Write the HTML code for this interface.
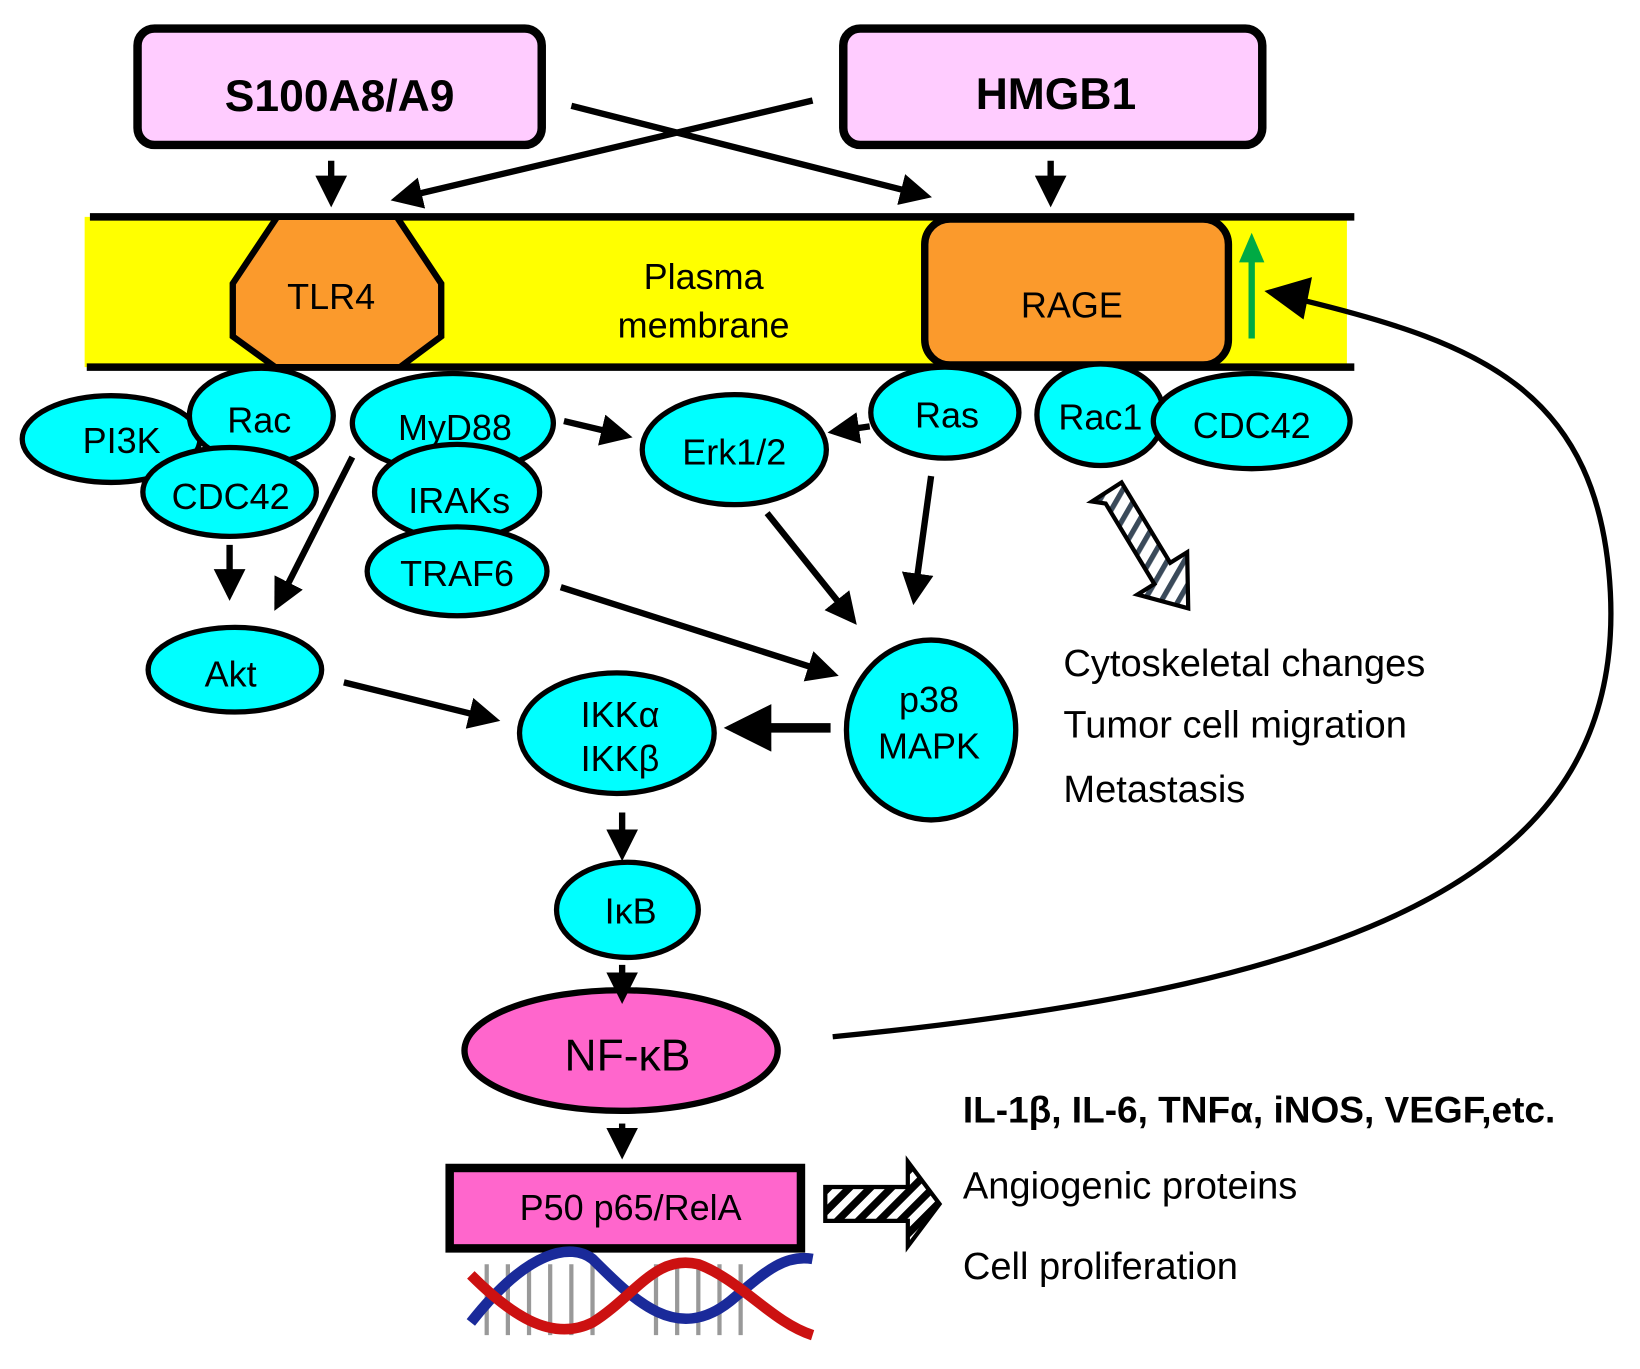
<!DOCTYPE html>
<html><head><style>html,body{margin:0;padding:0;background:#fff}svg{display:block}text{font-family:"Liberation Sans",sans-serif}</style></head>
<body>
<svg width="1640" height="1369" viewBox="0 0 1550 1294" preserveAspectRatio="none" xmlns="http://www.w3.org/2000/svg">
<defs>
<marker id="ah" markerWidth="5" markerHeight="5" refX="4" refY="2.5" orient="auto" markerUnits="strokeWidth"><path d="M0,0 L5,2.5 L0,5 Z" fill="#000"/></marker>
<pattern id="hatch" width="14" height="14" patternUnits="userSpaceOnUse" patternTransform="rotate(45)"><rect width="14" height="14" fill="#fff"/><rect width="7" height="14" fill="#000"/></pattern>
<pattern id="hatch2" width="14" height="14" patternUnits="userSpaceOnUse" patternTransform="rotate(30)"><rect width="14" height="14" fill="#fff"/><rect width="5" height="14" fill="#3a4a5a"/></pattern>
</defs>
<rect x="130" y="27" width="382" height="110" rx="16" fill="#ffccff" stroke="#000" stroke-width="8"/>
<text x="321" y="105" font-size="42" font-weight="bold" text-anchor="middle">S100A8/A9</text>
<rect x="797" y="27" width="396" height="110" rx="16" fill="#ffccff" stroke="#000" stroke-width="8"/>
<text x="998" y="103" font-size="42" font-weight="bold" text-anchor="middle">HMGB1</text>
<g stroke="#000" stroke-width="6" fill="none" marker-end="url(#ah)">
<line x1="313" y1="152" x2="313" y2="190"/>
<line x1="993" y1="152" x2="993" y2="190"/>
<line x1="540" y1="100" x2="875" y2="185"/>
<line x1="768" y1="95" x2="375" y2="188"/>
</g>
<rect x="80" y="205" width="1193" height="142" fill="#ffff00"/>
<line x1="85" y1="205" x2="1280" y2="205" stroke="#000" stroke-width="7"/>
<line x1="82" y1="347" x2="1280" y2="347" stroke="#000" stroke-width="7"/>
<polygon points="262,205 375,205 417,268 417,318 378,347 260,347 220,318 220,268" fill="#fb9a2c" stroke="#000" stroke-width="6"/>
<text x="313" y="292" font-size="34" text-anchor="middle">TLR4</text>
<text x="665" y="273" font-size="34" text-anchor="middle">Plasma</text>
<text x="665" y="319" font-size="34" text-anchor="middle">membrane</text>
<rect x="874" y="207" width="287" height="138" rx="24" fill="#fb9a2c" stroke="#000" stroke-width="7"/>
<text x="1013" y="300" font-size="34" text-anchor="middle">RAGE</text>
<line x1="1183" y1="320" x2="1183" y2="245" stroke="#00aa44" stroke-width="6"/>
<path d="M1171,248 L1183,220 L1195,248 Z" fill="#00aa44"/>
<g fill="#00ffff" stroke="#000" stroke-width="5">
<ellipse cx="105" cy="415" rx="84" ry="41"/>
<ellipse cx="247" cy="393" rx="68" ry="45"/>
<ellipse cx="428" cy="400" rx="95" ry="47"/>
<ellipse cx="217" cy="465" rx="82" ry="42"/>
<ellipse cx="432" cy="465" rx="78" ry="45"/>
<ellipse cx="432" cy="540" rx="85" ry="42"/>
<ellipse cx="694" cy="425" rx="87" ry="52"/>
<ellipse cx="893" cy="390" rx="70" ry="43"/>
<ellipse cx="1040" cy="392" rx="60" ry="48"/>
<ellipse cx="1183" cy="398" rx="93" ry="45"/>
<ellipse cx="222" cy="633" rx="82" ry="40"/>
<ellipse cx="583" cy="693" rx="92" ry="57"/>
<ellipse cx="880" cy="690" rx="80" ry="85"/>
<ellipse cx="593" cy="860" rx="67" ry="45"/>
</g>
<ellipse cx="587" cy="993" rx="148" ry="57" fill="#ff66cc" stroke="#000" stroke-width="6"/>
<g font-size="34" text-anchor="middle">
<text x="115" y="428">PI3K</text>
<text x="245" y="409">Rac</text>
<text x="430" y="416">MyD88</text>
<text x="218" y="481">CDC42</text>
<text x="434" y="485">IRAKs</text>
<text x="432" y="554">TRAF6</text>
<text x="694" y="439">Erk1/2</text>
<text x="895" y="404">Ras</text>
<text x="1040" y="406">Rac1</text>
<text x="1183" y="414">CDC42</text>
<text x="218" y="649">Akt</text>
<text x="586" y="687">IKKα</text>
<text x="586" y="729">IKKβ</text>
<text x="878" y="673">p38</text>
<text x="878" y="717">MAPK</text>
<text x="596" y="873">IκB</text>
<text x="593" y="1012" font-size="42">NF-κB</text>
</g>
<rect x="425" y="1104" width="332" height="76" fill="#ff66cc" stroke="#000" stroke-width="8"/>
<text x="596" y="1153" font-size="34" text-anchor="middle">P50 p65/RelA</text>
<g stroke="#000" stroke-width="6" fill="none" marker-end="url(#ah)">
<line x1="217" y1="515" x2="217" y2="562"/>
<line x1="333" y1="432" x2="262" y2="572"/>
<line x1="533" y1="398" x2="592" y2="412"/>
<line x1="822" y1="403" x2="788" y2="408"/>
<line x1="725" y1="485" x2="806" y2="586"/>
<line x1="880" y1="450" x2="864" y2="566"/>
<line x1="530" y1="555" x2="787" y2="637"/>
<line x1="325" y1="645" x2="467" y2="680"/>
<line x1="785" y1="688" x2="693" y2="688" stroke-width="9"/>
<line x1="588" y1="768" x2="588" y2="808"/>
<line x1="588" y1="912" x2="588" y2="943"/>
<line x1="588" y1="1062" x2="588" y2="1090"/>
</g>
<path d="M787,980 C1300,930 1535,820 1522,560 C1512,370 1400,325 1232,284" fill="none" stroke="#000" stroke-width="5"/>
<path d="M1195,275 L1240,262 L1232,302 Z" fill="#000"/>
<path d="M1032,474 L1060,456 L1106,532 L1122,522 L1123,575 L1075,562 L1091,552 L1045,476 Z" fill="url(#hatch2)" stroke="#000" stroke-width="4"/>
<path d="M780,1122 L858,1122 L858,1098 L888,1138 L858,1178 L858,1154 L780,1154 Z" fill="url(#hatch)" stroke="#000" stroke-width="4"/>
<g font-size="36">
<text x="1005" y="639">Cytoskeletal changes</text>
<text x="1005" y="697">Tumor cell migration</text>
<text x="1005" y="758">Metastasis</text>
<text x="910" y="1061" font-weight="bold" font-size="35">IL-1β, IL-6, TNFα, iNOS, VEGF,etc.</text>
<text x="910" y="1133">Angiogenic proteins</text>
<text x="910" y="1209">Cell proliferation</text>
</g>
<g stroke-width="4">
<g stroke="#999">
<line x1="460" y1="1195" x2="460" y2="1262"/><line x1="480" y1="1195" x2="480" y2="1262"/><line x1="500" y1="1195" x2="500" y2="1262"/><line x1="520" y1="1195" x2="520" y2="1262"/><line x1="540" y1="1195" x2="540" y2="1262"/><line x1="560" y1="1195" x2="560" y2="1262"/><line x1="620" y1="1195" x2="620" y2="1262"/><line x1="640" y1="1195" x2="640" y2="1262"/><line x1="660" y1="1195" x2="660" y2="1262"/><line x1="680" y1="1195" x2="680" y2="1262"/><line x1="700" y1="1195" x2="700" y2="1262"/>
</g>
<path d="M445,1250 C500,1180 540,1175 560,1190 C600,1230 640,1270 690,1230 C720,1205 740,1185 768,1190" fill="none" stroke="#1a2a9a" stroke-width="10"/>
<path d="M445,1205 C480,1240 520,1270 560,1250 C600,1225 620,1185 660,1195 C700,1210 730,1250 768,1262" fill="none" stroke="#cc1111" stroke-width="10"/>
</g>
</svg>
</body></html>
